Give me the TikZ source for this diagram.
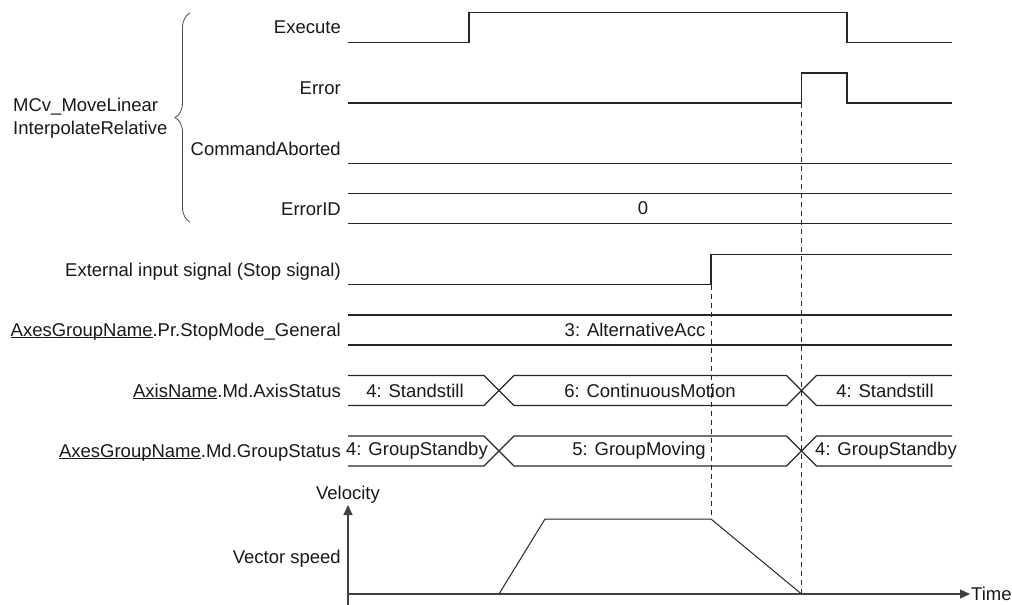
\documentclass[tikz,border=0pt]{standalone}
\usepackage{fontspec}
\setmainfont{Liberation Sans}
\usetikzlibrary{arrows.meta,decorations.pathreplacing}
\newcommand{\ulnm}[1]{\setbox0=\hbox{#1}\rlap{\rule[-1.8pt]{\wd0}{0.9pt}}\box0}
\tikzset{
  sig/.style={draw=black!85,line width=1.1pt},
  lbl/.style={font=\fontsize{18.5}{23.3}\selectfont,text=black!90,inner sep=0pt},
  siglbl/.style={lbl,anchor=base east},
  val/.style={lbl,anchor=center},
  guide/.style={draw=black!85,line width=0.9pt,dash pattern=on 5pt off 4pt},
  ax/.style={draw=black!75,line width=1.1pt,-{Triangle[length=10pt,width=9pt]}},
  brc/.style={draw=black!70,line width=0.8pt,decorate,decoration={brace,amplitude=15pt}}
}

\begin{document}
\begin{tikzpicture}[x=1pt,y=-1pt]
  \useasboundingbox (0,0) rectangle (1012,605);

  % signal names
  \node[lbl,anchor=west,align=left] (fb) at (13,118.5) {MCv\_MoveLinear\\InterpolateRelative};
  \node[siglbl] (lexe) at (341,34) {Execute};
  \node[siglbl] (lerr) at (341,94.5) {Error};
  \node[siglbl] (lcab) at (341,155) {CommandAborted};
  \node[siglbl] (leid) at (341,215.5) {ErrorID};
  \node[siglbl] (lext) at (341,276) {External input signal (Stop signal)};
  \node[siglbl] (lstp) at (341,336.5) {\ulnm{AxesGroupName}.Pr.StopMode\_General};
  \node[siglbl] (laxs) at (341,397) {\ulnm{AxisName}.Md.AxisStatus};
  \node[siglbl] (lgrp) at (341,457.5) {\ulnm{AxesGroupName}.Md.GroupStatus};
  \draw[brc] (190,222) -- (190,13);

  % bit signals
  \draw[sig] (348,42.5) -- (469,42.5) -- (469,12.5) -- (847,12.5) -- (847,42.5) -- (952,42.5);
  \draw[sig] (348,103) -- (801.5,103) -- (801.5,73) -- (847,73) -- (847,103) -- (952,103);
  \draw[sig] (348,163.5) -- (952,163.5);
  \draw[sig] (348,284.5) -- (711,284.5) -- (711,254.5) -- (952,254.5);

  % value signals
  \draw[sig] (348,193.5) -- (952,193.5) (348,223.5) -- (952,223.5);
  \node[val] (veid) at (643,208.5) {0};
  \draw[sig] (348,315) -- (952,315) (348,345) -- (952,345);
  \node[val] (vstp) at (635,330) {3: AlternativeAcc};

  \draw[sig] (348,375.5) -- (484,375.5) -- (514,405.5) -- (786.5,405.5) -- (816.5,375.5) -- (952,375.5);
  \draw[sig] (348,405.5) -- (484,405.5) -- (514,375.5) -- (786.5,375.5) -- (816.5,405.5) -- (952,405.5);
  \node[val] (vaxs1) at (415,391) {4: Standstill};
  \node[val] (vaxs2) at (650,391) {6: ContinuousMotion};
  \node[val] (vaxs3) at (885,391) {4: Standstill};

  \draw[sig] (348,436) -- (484,436) -- (514,466) -- (786.5,466) -- (816.5,436) -- (952,436);
  \draw[sig] (348,466) -- (484,466) -- (514,436) -- (786.5,436) -- (816.5,466) -- (952,466);
  \node[val] (vgrp1) at (417,451) {4: GroupStandby};
  \node[val] (vgrp2) at (639,451) {5: GroupMoving};
  \node[val] (vgrp3) at (886,451) {4: GroupStandby};

  % velocity graph
  \coordinate (org) at (348,594);
  \draw[ax] (348,605) -- (348,505) coordinate (vtop);
  \draw[ax] (org) -- (970,594) coordinate (tend);
  \node[lbl,anchor=base] (lvel) at (348,499) {Velocity};
  \node[siglbl] (lvsp) at (341,563) {Vector speed};
  \node[lbl,anchor=west] (ltim) at (971,594) {Time};
  \draw[sig,line width=1pt] (499,594) -- (545,519) -- (711,519) coordinate (decst) -- (801.5,594) coordinate (decend);

  % guides
  \coordinate (stopup) at (711,284.5);
  \coordinate (errup) at (801.5,103);
  \draw[guide] (stopup) -- (decst);
  \draw[guide] (errup) -- (decend);
\end{tikzpicture}
\end{document}
